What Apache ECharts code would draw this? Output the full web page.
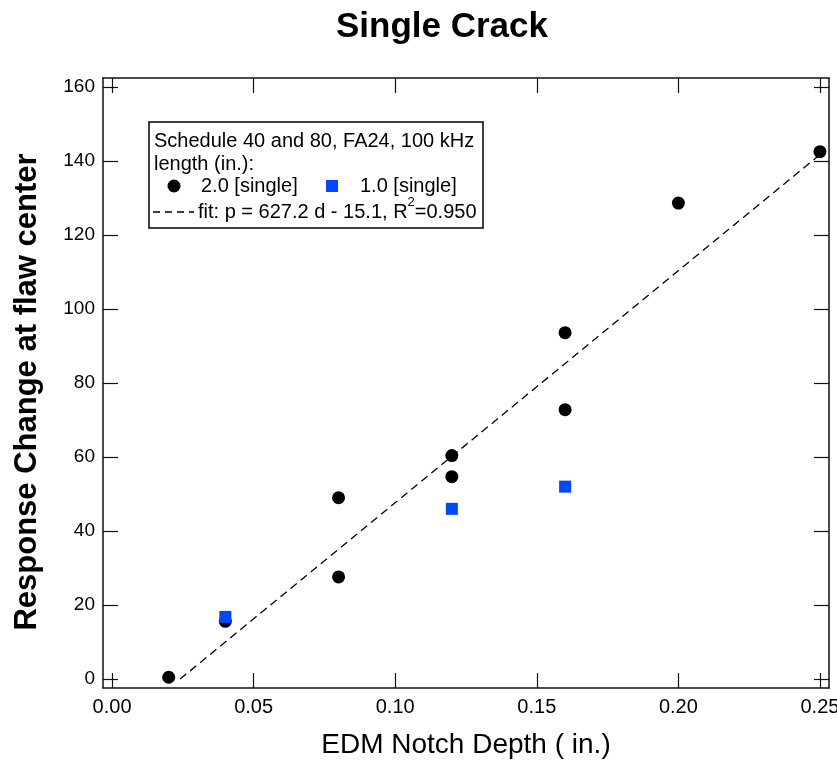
<!DOCTYPE html>
<html lang="en">
<head>
  <meta charset="UTF-8">
  <title>Single Crack</title>
  <style>
    html, body { margin: 0; padding: 0; background: #fff; }
    #main { width: 837px; height: 760px; }
  </style>
</head>
<body>
  <div id="main"></div>
  <script src="https://cdn.jsdelivr.net/npm/echarts@6/dist/echarts.min.js"></script>
  <script>
    // 数据 - 读自原图
    var xTicks = [0, 0.05, 0.10, 0.15, 0.20, 0.25];
    var yTicks = [0, 20, 40, 60, 80, 100, 120, 140, 160];

    // 2.0 [single] 圆点
    var circleX = [0.02, 0.04, 0.08, 0.08, 0.12, 0.12, 0.16, 0.16, 0.20, 0.25];
    var circleY = [0.5, 15.6, 49.0, 27.6, 60.4, 54.7, 93.6, 72.8, 128.6, 142.5];

    // 1.0 [single] 方块
    var squareX = [0.04, 0.12, 0.16];
    var squareY = [16.8, 46.0, 52.0];

    // 拟合线端点
    var fitX = [0.024, 0.25];
    var fitY = [0, 141.7];

    function pairs(xs, ys) {
      return xs.map(function (x, i) { return [x, ys[i]]; });
    }

    var font = 'Liberation Sans, Arial, sans-serif';
    var frameColor = '#111';

    var myChart = echarts.init(document.getElementById('main'));

    // 坐标轴公共样式
    function baseAxis() {
      return {
        type: 'value',
        axisLine: { show: true, onZero: false, lineStyle: { color: frameColor, width: 1.5 } },
        axisTick: { show: true, inside: true, length: 15, lineStyle: { color: frameColor, width: 1.2 } },
        splitLine: { show: false }
      };
    }

    var xBottom = Object.assign(baseAxis(), {
      position: 'bottom',
      min: -0.0032,
      max: 0.2532,
      name: 'EDM Notch Depth ( in.)',
      nameLocation: 'middle',
      nameGap: 43,
      nameTextStyle: { fontFamily: font, fontSize: 28, color: '#000' },
      axisLabel: {
        customValues: xTicks,
        margin: 9,
        fontFamily: font, fontSize: 20, color: '#000',
        formatter: function (v) { return v.toFixed(2); }
      }
    });
    xBottom.axisTick.customValues = xTicks;

    var xTop = Object.assign(baseAxis(), {
      position: 'top',
      min: -0.0032,
      max: 0.2532,
      axisLabel: { show: false }
    });
    xTop.axisTick.customValues = xTicks;

    var yLeft = Object.assign(baseAxis(), {
      position: 'left',
      min: -2.4,
      max: 162.4,
      name: 'Response Change at flaw center',
      nameLocation: 'middle',
      nameGap: 60,
      nameRotate: 90,
      nameTextStyle: { fontFamily: font, fontSize: 31, fontWeight: 'bold', color: '#000', padding: [0, 18, 0, 0] },
      axisLabel: {
        customValues: yTicks,
        margin: 8,
        fontFamily: font, fontSize: 19, color: '#000'
      }
    });
    yLeft.axisTick.customValues = yTicks;

    var yRight = Object.assign(baseAxis(), {
      position: 'right',
      min: -2.4,
      max: 162.4,
      axisLabel: { show: false }
    });
    yRight.axisTick.customValues = yTicks;

    // 图例框（手绘）
    var lf = '20px ' + font;
    var legendGraphic = [
      {
        type: 'rect',
        shape: { x: 149, y: 122, width: 334, height: 106 },
        style: { fill: '#fff', stroke: '#000', lineWidth: 1.5 },
        z: 100
      },
      {
        type: 'text', x: 154, y: 141, z: 101,
        style: { text: 'Schedule 40 and 80, FA24, 100 kHz', font: lf, fill: '#000', verticalAlign: 'middle' }
      },
      {
        type: 'text', x: 154, y: 164, z: 101,
        style: { text: 'length (in.):', font: lf, fill: '#000', verticalAlign: 'middle' }
      },
      {
        type: 'circle', shape: { cx: 174, cy: 186, r: 6.5 }, z: 101,
        style: { fill: '#000' }
      },
      {
        type: 'text', x: 201, y: 186, z: 101,
        style: { text: '2.0 [single]', font: lf, fill: '#000', verticalAlign: 'middle' }
      },
      {
        type: 'rect', shape: { x: 326, y: 180, width: 12, height: 12 }, z: 101,
        style: { fill: '#0047ff' }
      },
      {
        type: 'text', x: 360, y: 186, z: 101,
        style: { text: '1.0 [single]', font: lf, fill: '#000', verticalAlign: 'middle' }
      },
      {
        type: 'line', shape: { x1: 153, y1: 212, x2: 194, y2: 212 }, z: 101,
        style: { stroke: '#000', lineWidth: 1.3, lineDash: [7, 5] }
      },
      {
        type: 'text', x: 198, y: 212, z: 101,
        style: {
          text: '{a|fit: p = 627.2 d - 15.1, R}{s|2}{a|=0.950}',
          verticalAlign: 'middle',
          rich: {
            a: { fontFamily: font, fontSize: 20, color: '#000', lineHeight: 32 },
            s: { fontFamily: font, fontSize: 13, color: '#000', verticalAlign: 'top' }
          }
        }
      }
    ];

    var option = {
      backgroundColor: '#fff',
      animation: false,
      title: {
        text: 'Single Crack',
        left: 437,
        top: 5,
        textAlign: 'center',
        textStyle: { fontFamily: font, fontSize: 35, fontWeight: 'bold', color: '#000' }
      },
      grid: { left: 103, right: 8, top: 78, bottom: 72, containLabel: false, outerBoundsMode: 'none' },
      xAxis: [xBottom, xTop],
      yAxis: [yLeft, yRight],
      graphic: legendGraphic,
      series: [
        {
          name: 'fit',
          type: 'line',
          data: pairs(fitX, fitY),
          symbol: 'none',
          lineStyle: { color: '#000', width: 1.3, type: [8, 5] },
          z: 2
        },
        {
          name: '2.0 [single]',
          type: 'scatter',
          data: pairs(circleX, circleY),
          symbol: 'circle',
          symbolSize: 13,
          itemStyle: { color: '#000', opacity: 1 },
          z: 3
        },
        {
          name: '1.0 [single]',
          type: 'scatter',
          data: pairs(squareX, squareY),
          symbol: 'rect',
          symbolSize: 12,
          itemStyle: { color: '#0047ff', opacity: 1 },
          z: 4
        }
      ]
    };

    myChart.setOption(option);
  </script>
</body>
</html>
